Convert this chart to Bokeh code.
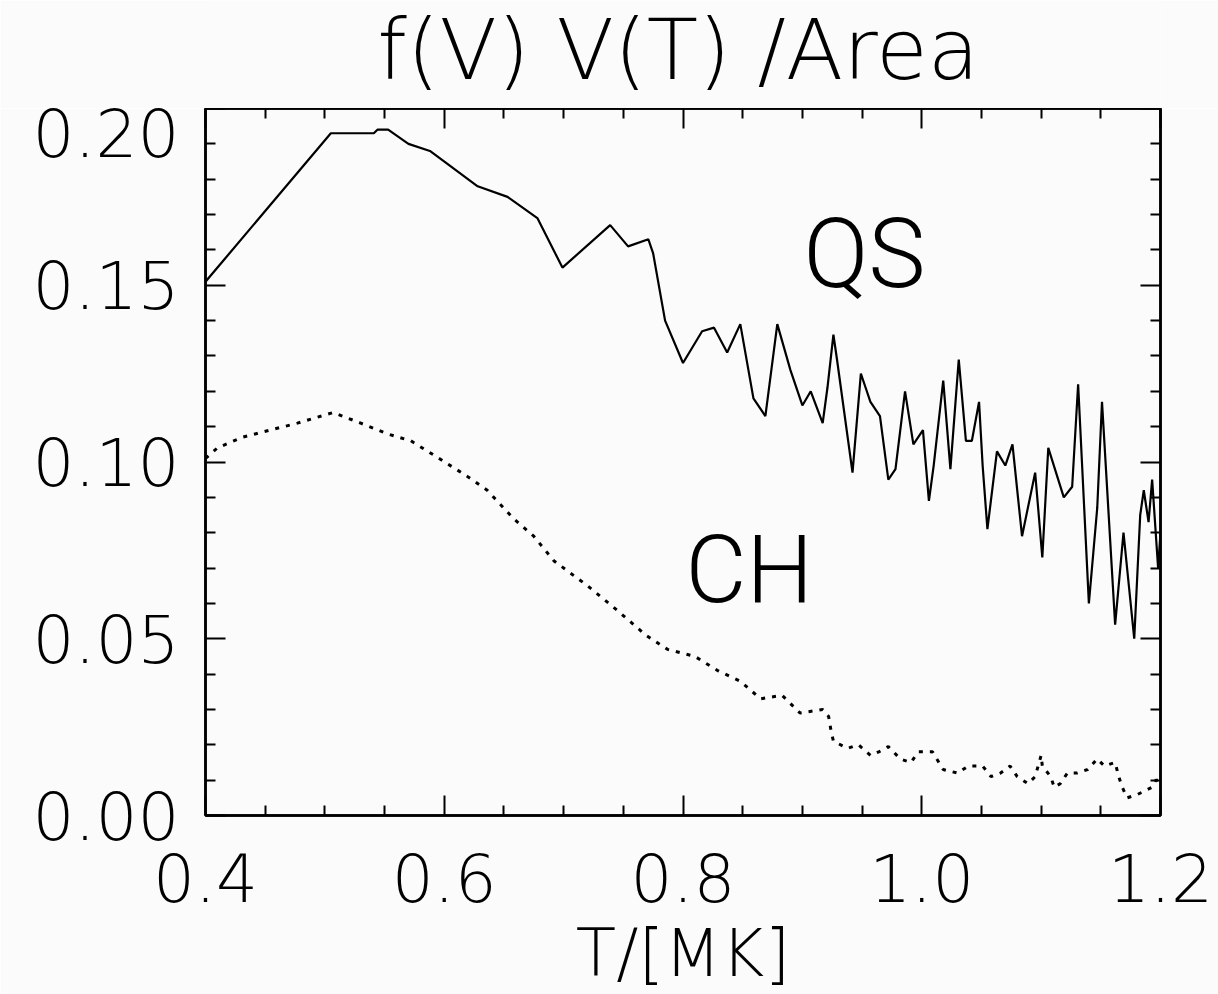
from bokeh.plotting import figure
from bokeh.models import LinearAxis, FixedTicker, NumeralTickFormatter, Range1d, Label
from bokeh.layouts import column
from bokeh.embed import file_html
from bokeh.resources import INLINE

# --- data ---
qs_t = [0.400, 0.505, 0.517, 0.541, 0.544, 0.553, 0.570, 0.588, 0.608, 0.628, 0.653, 0.678, 0.699,
        0.739, 0.754, 0.771, 0.775, 0.785, 0.800, 0.816, 0.826, 0.837, 0.848, 0.859, 0.869, 0.879,
        0.890, 0.900, 0.907, 0.917, 0.921, 0.926, 0.929, 0.942, 0.949, 0.953, 0.957, 0.965, 0.972,
        0.978, 0.986, 0.993, 1.001, 1.006, 1.010, 1.018, 1.024, 1.031, 1.037, 1.042, 1.048, 1.051,
        1.055, 1.063, 1.070, 1.076, 1.084, 1.095, 1.101, 1.106, 1.119, 1.126, 1.131, 1.140, 1.147,
        1.151, 1.162, 1.169, 1.178, 1.183, 1.186, 1.190, 1.193, 1.198, 1.200]
qs_v = [0.151, 0.193, 0.193, 0.193, 0.194, 0.194, 0.190, 0.188, 0.183, 0.178, 0.175, 0.169, 0.155,
        0.167, 0.161, 0.163, 0.159, 0.140, 0.128, 0.137, 0.138, 0.131, 0.139, 0.118, 0.113, 0.139,
        0.126, 0.116, 0.120, 0.111, 0.121, 0.136, 0.129, 0.097, 0.125, 0.121, 0.117, 0.113, 0.095,
        0.098, 0.120, 0.105, 0.109, 0.089, 0.099, 0.123, 0.098, 0.129, 0.106, 0.106, 0.117, 0.099,
        0.081, 0.103, 0.099, 0.105, 0.079, 0.097, 0.073, 0.104, 0.090, 0.093, 0.122, 0.060, 0.087,
        0.117, 0.054, 0.080, 0.050, 0.085, 0.092, 0.083, 0.095, 0.070, 0.080]

ch_t = [0.400, 0.410, 0.431, 0.454, 0.477, 0.507, 0.530, 0.552, 0.572, 0.591, 0.619, 0.636, 0.658,
        0.675, 0.692, 0.720, 0.745, 0.769, 0.787, 0.810, 0.829, 0.848, 0.865, 0.883, 0.898, 0.917,
        0.922, 0.924, 0.926, 0.938, 0.947, 0.957, 0.964, 0.972, 0.982, 0.991, 0.997, 1.009, 1.018,
        1.030, 1.039, 1.051, 1.058, 1.066, 1.074, 1.080, 1.089, 1.095, 1.100, 1.101, 1.108, 1.111,
        1.116, 1.122, 1.130, 1.139, 1.147, 1.153, 1.162, 1.165, 1.168, 1.172, 1.181, 1.187, 1.193,
        1.196, 1.200]
ch_v = [0.101, 0.104, 0.107, 0.109, 0.111, 0.114, 0.111, 0.108, 0.106, 0.102, 0.096, 0.092, 0.084,
        0.079, 0.072, 0.065, 0.058, 0.051, 0.047, 0.045, 0.041, 0.038, 0.033, 0.034, 0.029, 0.030,
        0.028, 0.024, 0.021, 0.019, 0.020, 0.017, 0.018, 0.0195, 0.016, 0.015, 0.018, 0.018, 0.013,
        0.012, 0.014, 0.014, 0.011, 0.012, 0.014, 0.011, 0.009, 0.011, 0.017, 0.014, 0.011, 0.008,
        0.009, 0.012, 0.012, 0.013, 0.016, 0.014, 0.015, 0.011, 0.008, 0.005, 0.006, 0.007, 0.008,
        0.010, 0.010]

x_ticks = [0.4, 0.6, 0.8, 1.0, 1.2]
x_minor = [0.45, 0.5, 0.55, 0.65, 0.7, 0.75, 0.85, 0.9, 0.95, 1.05, 1.1, 1.15]
y_ticks = [0.0, 0.05, 0.10, 0.15, 0.20]
y_minor = [0.01, 0.02, 0.03, 0.04, 0.06, 0.07, 0.08, 0.09, 0.11, 0.12, 0.13, 0.14,
           0.16, 0.17, 0.18, 0.19]

title_text = "f(V) V(T) /Area"
x_label = "T/[MK]"
label_qs = "QS"
label_ch = "CH"

THIN = "DejaVu Sans Light"
MID = "Roboto Light"
BG = "#fbfbfb"

# ---- title strip (its frame is aligned with the main plot's frame by the column) ----
tfig = figure(width=1218, height=108, output_backend="svg", toolbar_location=None,
              x_range=Range1d(0.4, 1.2), y_range=Range1d(0, 108),
              x_axis_location=None, y_axis_location=None,
              min_border_left=0, min_border_right=0, min_border_top=0, min_border_bottom=0,
              background_fill_color=BG, border_fill_color=BG)
tfig.grid.visible = False
tfig.outline_line_color = None
tfig.add_layout(Label(x=0.796, y=58.5, text=title_text, text_font=THIN, text_font_size="84px",
                      text_color="black", text_align="center", text_baseline="middle"))

# ---- main plot ----
p = figure(width=1218, height=886, output_backend="svg", toolbar_location=None,
           x_range=Range1d(0.4, 1.2), y_range=Range1d(0.0, 0.2),
           x_axis_location=None, y_axis_location=None,
           min_border_left=205, min_border_right=58, min_border_top=0, min_border_bottom=177,
           background_fill_color=BG, border_fill_color=BG)
p.grid.visible = False
p.outline_line_color = "black"
p.outline_line_width = 2.5

xt = FixedTicker(ticks=x_ticks, minor_ticks=x_minor)
yt = FixedTicker(ticks=y_ticks, minor_ticks=y_minor)

def style(ax, ticks, labels=True):
    ax.axis_line_color = "black"
    ax.axis_line_width = 2.5
    ax.major_tick_in = 20
    ax.major_tick_out = 0
    ax.minor_tick_in = 10
    ax.minor_tick_out = 0
    ax.major_tick_line_width = 2
    ax.minor_tick_line_width = 2
    ax.major_tick_line_color = "black"
    ax.minor_tick_line_color = "black"
    if labels:
        ax.major_label_text_font = THIN
        ax.major_label_text_font_size = "66px"
        ax.major_label_text_color = "black"
    else:
        ax.major_label_overrides = {t: "" for t in ticks}
        ax.major_label_standoff = 0

bottom = LinearAxis(ticker=xt, formatter=NumeralTickFormatter(format="0.0"))
style(bottom, x_ticks)
bottom.major_label_standoff = 38
bottom.axis_label = x_label
bottom.axis_label_text_font = THIN
bottom.axis_label_text_font_size = "66px"
bottom.axis_label_text_font_style = "normal"
bottom.axis_label_text_color = "black"
bottom.axis_label_standoff = 10
p.add_layout(bottom, "below")

left = LinearAxis(ticker=yt, formatter=NumeralTickFormatter(format="0.00"))
style(left, y_ticks)
left.major_label_standoff = 26
p.add_layout(left, "left")

top = LinearAxis(ticker=xt)
style(top, x_ticks, labels=False)
p.add_layout(top, "above")

right = LinearAxis(ticker=yt)
style(right, y_ticks, labels=False)
p.add_layout(right, "right")

p.line(qs_t, qs_v, line_color="black", line_width=2.2)
p.line(ch_t, ch_v, line_color="black", line_width=3, line_dash="4 7")

p.add_layout(Label(x=0.901, y=0.1587, text=label_qs, text_font=MID,
                   text_font_size="96px", text_color="black", text_baseline="alphabetic"))
p.add_layout(Label(x=0.802, y=0.0694, text=label_ch, text_font=MID,
                   text_font_size="94px", text_color="black", text_baseline="alphabetic"))

layout = column(tfig, p, spacing=0)
open("out.html", "w").write(file_html(layout, INLINE))
